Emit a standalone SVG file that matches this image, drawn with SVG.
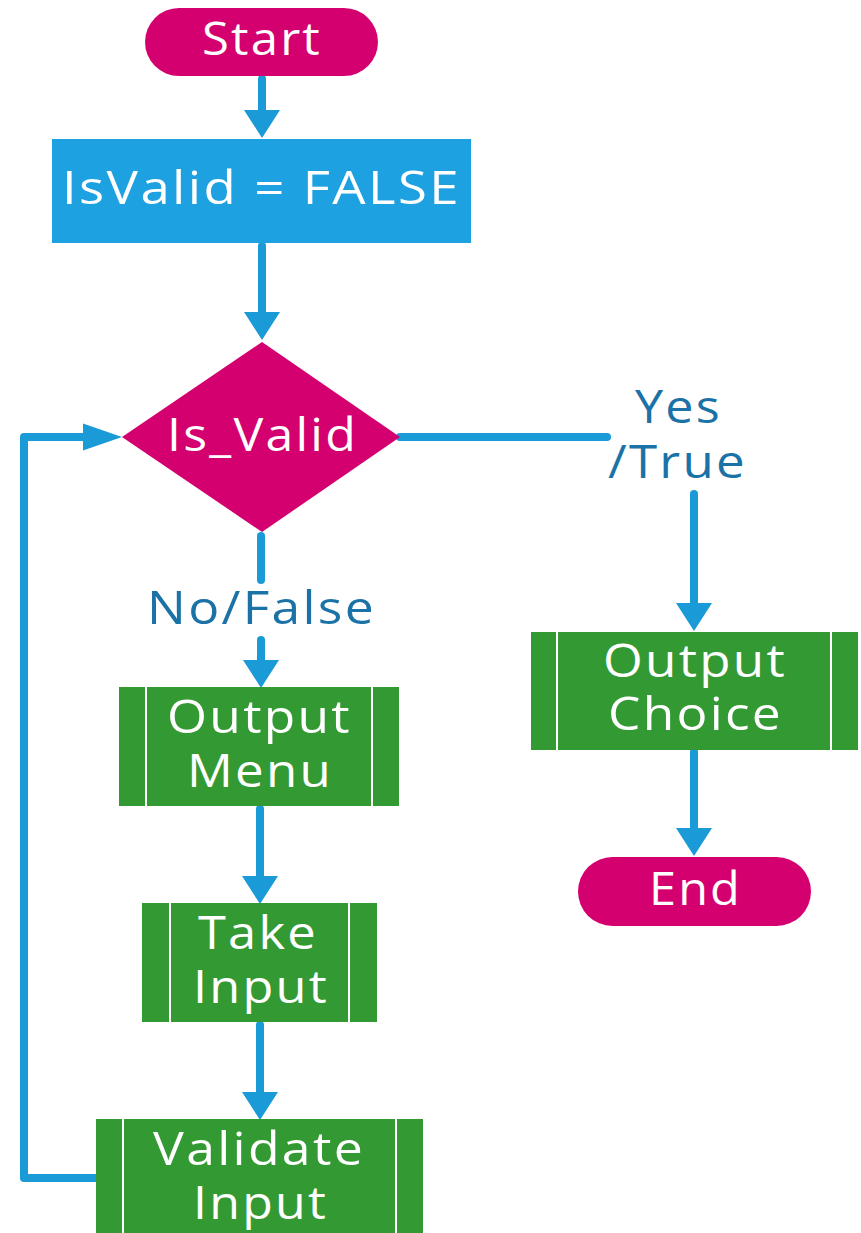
<svg xmlns="http://www.w3.org/2000/svg" width="861" height="1233" viewBox="0 0 861 1233">
  <style>
    .term { fill: #d5006f; }
    .proc { fill: #1da1e1; }
    .sub { fill: #339933; }
    .bar { stroke: #ffffff; stroke-width: 2; }
    .t { font-family: "Open Sans", "Noto Sans", "Liberation Sans", sans-serif; font-size: 45px; letter-spacing: 2px; fill: #ffffff; }
    .lbl { font-family: "Open Sans", "Noto Sans", "Liberation Sans", sans-serif; font-size: 45px; letter-spacing: 2px; fill: #1b72a6; }
    .wire { fill: none; stroke: #1a9ad6; stroke-width: 8; stroke-linecap: round; stroke-linejoin: round; }
  </style>
  <defs>
    <marker id="head" markerUnits="userSpaceOnUse" markerWidth="28" markerHeight="36" refX="0" refY="18" orient="auto" overflow="visible">
      <path d="M0,0 L28,18 L0,36 Z" fill="#1a9ad6"/>
    </marker>
    <marker id="headLong" markerUnits="userSpaceOnUse" markerWidth="39" markerHeight="27" refX="0" refY="13.5" orient="auto" overflow="visible">
      <path d="M0,0 L39,13.5 L0,27 Z" fill="#1a9ad6"/>
    </marker>
  </defs>

  <rect width="861" height="1233" fill="#ffffff"/>

  <!-- connectors -->
  <g id="connectors">
    <path class="wire" d="M262,79 L262,110" marker-end="url(#head)"/>
    <path class="wire" d="M262,246 L262,312" marker-end="url(#head)"/>
    <path class="wire" d="M400,437 L607,437"/>
    <path class="wire" d="M694,494 L694,603" stroke-linecap="butt" marker-end="url(#head)"/>
    <path class="wire" d="M694,752 L694,828" marker-end="url(#head)"/>
    <path class="wire" d="M261,536 L261,580"/>
    <path class="wire" d="M261,640 L261,660" stroke-linecap="butt" marker-end="url(#head)"/>
    <path class="wire" d="M260,809 L260,876" marker-end="url(#head)"/>
    <path class="wire" d="M260,1025 L260,1092" marker-end="url(#head)"/>
    <path class="wire" d="M96,1178 L24,1178 L24,437 L83,437" marker-end="url(#headLong)"/>
    <text class="lbl" x="635" y="423" textLength="87" lengthAdjust="spacingAndGlyphs">Yes</text>
    <text class="lbl" x="608" y="478" textLength="139" lengthAdjust="spacingAndGlyphs">/True</text>
    <text class="lbl" x="147" y="624" textLength="229" lengthAdjust="spacingAndGlyphs">No/False</text>
  </g>

  <g id="start">
    <rect class="term" x="145" y="8" width="233" height="68" rx="34"/>
    <text class="t" x="202" y="55" textLength="120" lengthAdjust="spacingAndGlyphs">Start</text>
  </g>

  <g id="init">
    <rect class="proc" x="52" y="139" width="419" height="104"/>
    <text class="t" x="62" y="204" textLength="399" lengthAdjust="spacingAndGlyphs">IsValid = FALSE</text>
  </g>

  <g id="decision">
    <polygon class="term" points="262,342 400,437 262,532 122,437"/>
    <text class="t" x="167" y="451" textLength="191" lengthAdjust="spacingAndGlyphs">Is_Valid</text>
  </g>

  <g id="output-menu">
    <rect class="sub" x="119" y="687" width="280" height="119"/>
    <line class="bar" x1="146" y1="687" x2="146" y2="806"/>
    <line class="bar" x1="372" y1="687" x2="372" y2="806"/>
    <text class="t" x="167" y="733" textLength="185" lengthAdjust="spacingAndGlyphs">Output</text>
    <text class="t" x="187" y="787" textLength="146" lengthAdjust="spacingAndGlyphs">Menu</text>
  </g>

  <g id="take-input">
    <rect class="sub" x="142" y="903" width="235" height="119"/>
    <line class="bar" x1="170" y1="903" x2="170" y2="1022"/>
    <line class="bar" x1="349" y1="903" x2="349" y2="1022"/>
    <text class="t" x="198" y="949" textLength="120" lengthAdjust="spacingAndGlyphs">Take</text>
    <text class="t" x="193" y="1003" textLength="136" lengthAdjust="spacingAndGlyphs">Input</text>
  </g>

  <g id="validate-input">
    <rect class="sub" x="96" y="1119" width="327" height="120"/>
    <line class="bar" x1="123" y1="1119" x2="123" y2="1239"/>
    <line class="bar" x1="396" y1="1119" x2="396" y2="1239"/>
    <text class="t" x="153" y="1165" textLength="212" lengthAdjust="spacingAndGlyphs">Validate</text>
    <text class="t" x="193" y="1219" textLength="135" lengthAdjust="spacingAndGlyphs">Input</text>
  </g>

  <g id="output-choice">
    <rect class="sub" x="531" y="632" width="327" height="118"/>
    <line class="bar" x1="557" y1="632" x2="557" y2="750"/>
    <line class="bar" x1="831" y1="632" x2="831" y2="750"/>
    <text class="t" x="603" y="677" textLength="184" lengthAdjust="spacingAndGlyphs">Output</text>
    <text class="t" x="608" y="730" textLength="175" lengthAdjust="spacingAndGlyphs">Choice</text>
  </g>

  <g id="end">
    <rect class="term" x="578" y="857" width="233" height="69" rx="34.5"/>
    <text class="t" x="649" y="905" textLength="93" lengthAdjust="spacingAndGlyphs">End</text>
  </g>
</svg>
